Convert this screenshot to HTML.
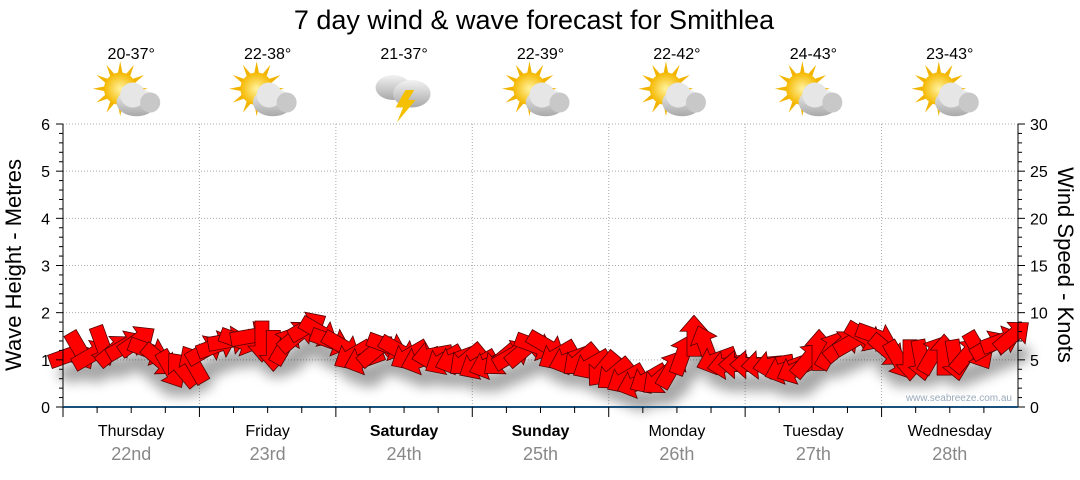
<!DOCTYPE html>
<html><head><meta charset="utf-8"><style>
body{margin:0;background:#fff;width:1080px;height:475px;overflow:hidden;font-family:"Liberation Sans",sans-serif}
</style></head><body>
<svg id="chart" width="1080" height="475" xmlns="http://www.w3.org/2000/svg" font-family="Liberation Sans, DejaVu Sans, sans-serif">
<defs>
<filter id="sh" x="-50%" y="-50%" width="200%" height="200%"><feGaussianBlur stdDeviation="6"/></filter>
<radialGradient id="sun" cx="0.5" cy="0.5" r="0.5"><stop offset="0" stop-color="#fff3a0"/><stop offset="1" stop-color="#f5b800"/></radialGradient>
<linearGradient id="cloud" x1="0" y1="0" x2="0" y2="1"><stop offset="0" stop-color="#f2f2f2"/><stop offset="1" stop-color="#a9a9a9"/></linearGradient>
</defs>
<text x="534" y="29" font-size="27" text-anchor="middle" fill="#000">7 day wind &amp; wave forecast for Smithlea</text>
<g id="grid"></g>
<g id="icons"></g>
<g id="shadow" filter="url(#sh)" opacity="0.35"></g>
<g id="arrows"></g>
<g id="axes"></g>
<text transform="translate(21,265) rotate(-90)" font-size="22" text-anchor="middle">Wave Height - Metres</text>
<text transform="translate(1058,265) rotate(90)" font-size="22" text-anchor="middle">Wind Speed - Knots</text>
<text x="1012" y="401" font-size="10" text-anchor="end" fill="#9ab">www.seabreeze.com.au</text>
</svg>
<script>
const days=["Thursday","Friday","Saturday","Sunday","Monday","Tuesday","Wednesday"];
const dates=["22nd","23rd","24th","25th","26th","27th","28th"];
const temps=["20-37°","22-38°","21-37°","22-39°","22-42°","24-43°","23-43°"];
const icons=["partly","partly","storm","partly","partly","partly","partly"];
const leftTicks=[0,1,2,3,4,5,6];
const rightTicks=[0,5,10,15,20,25,30];
const windSpeed=[5.5,6,5.5,6.5,6,6.5,7,6,5,4,4,4.5,
6,6.5,7,7,7.5,7,6,6.5,7.5,8.5,8,7,
6.5,5.5,5,6,6.5,6,5.5,5,5.5,5,5,5,
4.5,4.5,5,5.5,6,6.5,6.5,5.5,5,5,4.5,4,
3.5,3,2.5,3,3,4,5.5,7.5,6.5,5,4.5,4.5,
4.5,4.5,4.5,4,4,5,6,6,6.5,7,7.5,7.5,
6,5,5,5,5.5,5.5,5,5.5,6,6.5,7,7.5];
const windDir=[-20,60,-30,70,-40,-30,-35,20,40,60,-130,-120,
-30,-20,-10,20,-10,90,90,-60,-40,-30,30,20,
30,150,160,-40,20,30,150,160,170,150,160,140,
150,160,140,-30,-40,20,30,150,160,140,150,130,
140,150,160,150,140,-60,-70,-90,-110,160,170,180,
180,175,170,160,155,-50,-90,-60,-40,-30,30,20,
40,60,90,80,-60,-90,80,-50,60,-30,-20,-40];
const X0=63,X1=1018,Y0=407,Y1=124;
const xs=i=>X0+(X1-X0)*i/84+(X1-X0)/168;
const yL=v=>Y0-(Y0-Y1)*v/6;
const yR=v=>Y0-(Y0-Y1)*v/30;
const NS="http://www.w3.org/2000/svg";
function mk(p,t,a){const e=document.createElementNS(NS,t);for(const k in a)e.setAttribute(k,a[k]);p.appendChild(e);return e;}
const grid=document.getElementById('grid'),axes=document.getElementById('axes'),ic=document.getElementById('icons');
const dw=(X1-X0)/7;
leftTicks.forEach(v=>{if(v>0){const l=mk(grid,'line',{x1:X0,x2:X1,y1:yL(v),y2:yL(v),stroke:'#aaa','stroke-dasharray':'1,2'});

}
const t=mk(axes,'text',{x:50,y:yL(v)+6,'font-size':16,'text-anchor':'end'});t.textContent=v;


});
rightTicks.forEach(v=>{const t=mk(axes,'text',{x:1030,y:yR(v)+6,'font-size':16});t.textContent=v;


});
for(let m=0;m<=30;m++){const y=yR(m);mk(axes,'line',{x1:X1,x2:X1+(m%5?4:7),y1:y,y2:y,stroke:'#000'});mk(axes,'line',{x1:X0,x2:X0-(m%5?4:7),y1:y,y2:y,stroke:'#000'});}
mk(axes,'line',{x1:X0,x2:X0,y1:Y1,y2:Y0,stroke:'#000'});
mk(axes,'line',{x1:X1,x2:X1,y1:Y1,y2:Y0,stroke:'#000'});
mk(axes,'line',{x1:X0,x2:X1,y1:Y0,y2:Y0,stroke:'#1a4f7a','stroke-width':2});
for(let d=0;d<7;d++){const x=X0+dw*d;
if(d>0){const l=mk(grid,'line',{x1:x,x2:x,y1:Y1,y2:Y0,stroke:'#aaa','stroke-dasharray':'1,2'});

}
for(let q=0;q<4;q++){const tx=x+dw*q/4;mk(axes,'line',{x1:tx,x2:tx,y1:Y0,y2:Y0+(q?6:10),stroke:'#000'});}
const cx=x+dw/2;
const bold=(d==2||d==3)?'bold':'normal';
const t1=mk(axes,'text',{x:cx,y:436,'font-size':16,'text-anchor':'middle','font-weight':bold});t1.textContent=days[d];


const t2=mk(axes,'text',{x:cx,y:460,'font-size':18,'text-anchor':'middle',fill:'#888'});t2.textContent=dates[d];


const t3=mk(ic,'text',{x:cx,y:59,'font-size':16,'text-anchor':'middle'});t3.textContent=temps[d];


const g=mk(ic,'g',{transform:`translate(${cx-1},95) scale(1.25)`});


if(icons[d]=='partly'){
for(let r=0;r<12;r++){const a=r*30*Math.PI/180;mk(g,'polygon',{points:`${-8+Math.cos(a)*22},${-5+Math.sin(a)*22} ${-8+Math.cos(a+0.2)*11},${-5+Math.sin(a+0.2)*11} ${-8+Math.cos(a-0.2)*11},${-5+Math.sin(a-0.2)*11}`,fill:'#f2b400'});}
mk(g,'circle',{cx:-8,cy:-5,r:13,fill:'url(#sun)'});
mk(g,'ellipse',{cx:5,cy:6,rx:16,ry:11,fill:'url(#cloud)'});mk(g,'circle',{cx:2,cy:0,r:10,fill:'#e6e6e6'});mk(g,'circle',{cx:16,cy:6,r:8,fill:'#c8c8c8'});
}else{
mk(g,'ellipse',{cx:-8,cy:-6,rx:14,ry:10,fill:'url(#cloud)'});mk(g,'ellipse',{cx:7,cy:-1,rx:15,ry:11,fill:'url(#cloud)'});
mk(g,'polygon',{points:'2,-4 -6,10 0,10 -5,22 10,4 4,4 9,-4',fill:'#f5c000'});}
}
const sh=document.getElementById('shadow'),ar=document.getElementById('arrows');
const arrowPts="-20,-7 5,-7 5,-14 21,0 5,14 5,7 -20,7";
windSpeed.forEach((v,i)=>{const x=xs(i),y=yR(v);
mk(sh,'ellipse',{cx:x+4,cy:y+18,rx:15,ry:9,fill:'#000'});
const p=mk(ar,'polygon',{points:arrowPts,transform:`translate(${x},${y}) rotate(${windDir[i]})`,fill:'#f00',stroke:'#500','stroke-width':0.8});


});
</script>
</body></html>
